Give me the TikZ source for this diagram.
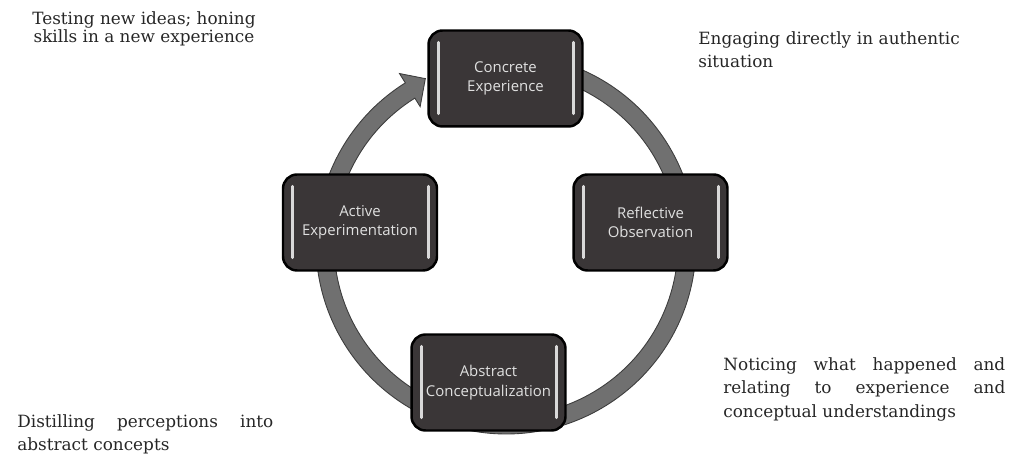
\documentclass[tikz,border=0pt]{standalone}
\usepackage{fontspec}
\setmainfont{DejaVu Serif}
\newfontfamily\boxfont{Open Sans}
\usepackage{tikz}

\definecolor{boxfill}{HTML}{3A3637}
\definecolor{ringfill}{HTML}{707070}
\definecolor{ringline}{HTML}{3C3C3C}
\definecolor{boxtext}{HTML}{E0E0E0}

\begin{document}
\begin{tikzpicture}[x=0.02cm,y=0.02cm,
  stage/.style={draw=black,line width=1.4pt,fill=boxfill,rounded corners=8pt,
    minimum width=3.08cm,minimum height=1.92cm,align=center,
    text=boxtext,font=\boxfont\fontsize{8.5}{11}\selectfont},
  shine/.style={draw=gray!30,line width=1.6pt,line cap=round},
  note/.style={inner sep=0pt,text=black!85,font=\fontsize{9.6}{13.4}\selectfont},
  ring/.style={fill=ringfill,draw=ringline,line width=0.5pt}]
\useasboundingbox (0,0) rectangle (1017,455);
\begin{scope}[shift={(506,211)}]
\filldraw[ring] (85:190) arc[start angle=85,end angle=-238,radius=190]
  -- (-238:201) -- (-244:184) -- (-238:162) -- (-238:172)
  arc[start angle=-238,end angle=85,radius=172] -- cycle;
\end{scope}
\node[stage] (ce) at (505.5,376.5) {Concrete\\Experience};
\node[stage] (ro) at (650.5,232.5) {Reflective\\Observation};
\node[stage] (ac) at (488.5,72.5) {Abstract\\Conceptualization};
\node[stage] (ae) at (360,232.5) {Active\\Experimentation};
\foreach \n in {ce,ro,ac,ae} {
  \draw[shine] ([shift={(0.22cm,-0.26cm)}]\n.north west) -- ([shift={(0.22cm,0.28cm)}]\n.south west);
  \draw[shine] ([shift={(-0.2cm,-0.26cm)}]\n.north east) -- ([shift={(-0.2cm,0.28cm)}]\n.south east);
}
\node[note,anchor=north,align=center,font=\fontsize{9.6}{10.4}\selectfont] (test) at (144,444)
  {Testing new ideas; honing\\skills in a new experience};
\node[note,anchor=north west,text width=5.4cm,align=left] (engage) at (698,424)
  {Engaging directly in authentic\\situation};
\node[note,anchor=north west,text width=5.64cm,align=justify] (notice) at (723,98)
  {Noticing what happened and\linebreak relating to experience and\linebreak conceptual understandings};
\node[note,anchor=north west,text width=5.12cm,align=justify] (distil) at (17,41)
  {Distilling perceptions into\linebreak abstract concepts};
\end{tikzpicture}
\end{document}
